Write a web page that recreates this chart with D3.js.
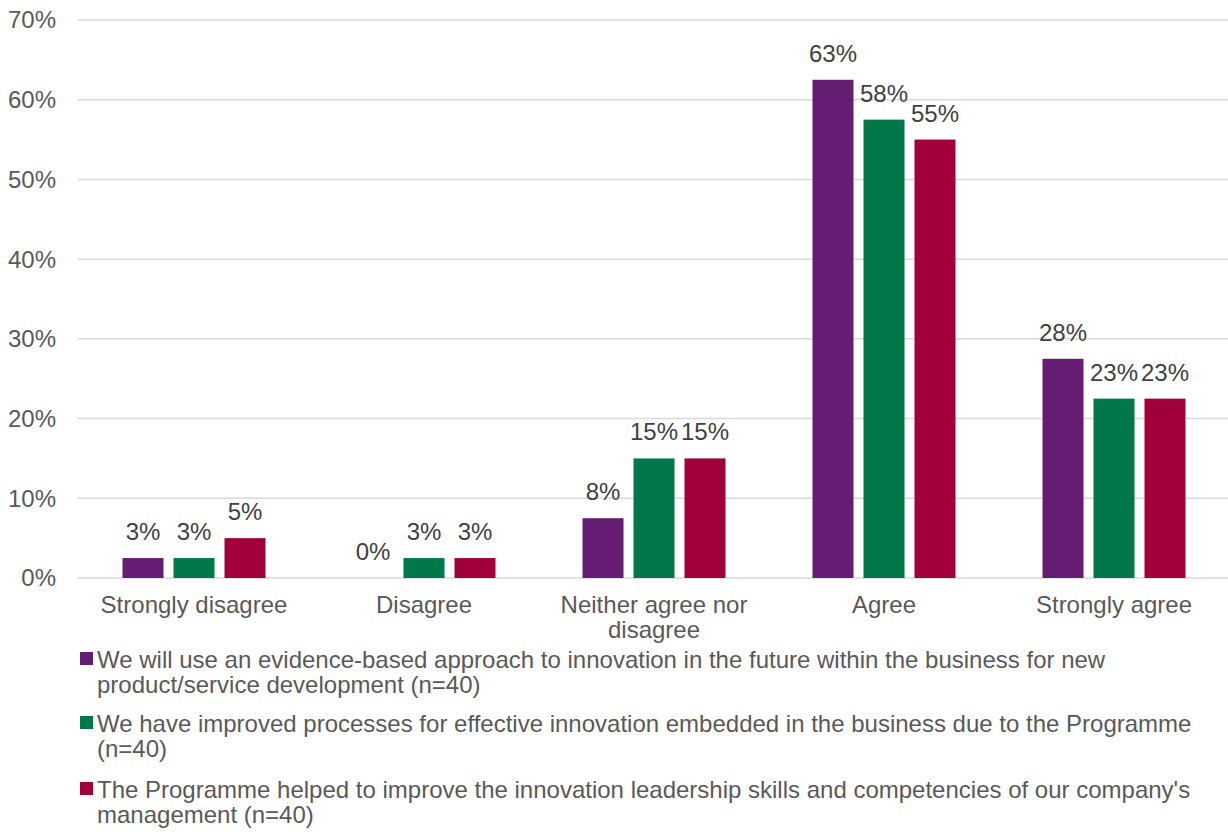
<!DOCTYPE html>
<html>
<head>
<meta charset="utf-8">
<script src="https://cdn.jsdelivr.net/npm/d3@7"></script>
<style>
  html, body { margin: 0; padding: 0; background: #fff; }
  svg { display: block; font-family: "Liberation Sans", Arial, sans-serif; }
</style>
</head>
<body>
<svg id="chart" width="1228" height="832"></svg>
<script>
// Survey response categories (x axis)
const categories = ["Strongly disagree", "Disagree", "Neither agree nor disagree", "Agree", "Strongly agree"];

// Statement labels shown in the legend
const seriesNames = [
  "We will use an evidence-based approach to innovation in the future within the business for new product/service development (n=40)",
  "We have improved processes for effective innovation embedded in the business due to the Programme (n=40)",
  "The Programme helped to improve the innovation leadership skills and competencies of our company's management (n=40)"
];

// Share of respondents (%) per category, one array per statement
const evidenceBased = [2.5, 0, 7.5, 62.5, 27.5];
const improvedProcesses = [2.5, 2.5, 15, 57.5, 22.5];
const leadershipSkills = [5, 2.5, 15, 55, 22.5];

// Y-axis ticks (%)
const yTicks = [0, 10, 20, 30, 40, 50, 60, 70];

const seriesValues = [evidenceBased, improvedProcesses, leadershipSkills];
const colors = ["#651c73", "#00784a", "#a1003a"];

const svg = d3.select("#chart");
const fontSize = 24;
const plot = { left: 78, right: 1228, top: 20, bottom: 578 };

const x = d3.scaleBand().domain(categories).range([plot.left + 1, plot.right + 1]);
const y = d3.scaleLinear().domain([0, 70]).range([plot.bottom, plot.top]);

const barW = 41, barStep = 51;
const inner = d3.scaleOrdinal().domain([0, 1, 2]).range([-barStep - barW / 2, -barW / 2, barStep - barW / 2]);

// Gridlines
svg.append("g")
  .selectAll("line")
  .data(yTicks)
  .join("line")
  .attr("x1", plot.left)
  .attr("x2", plot.right)
  .attr("y1", d => y(d))
  .attr("y2", d => y(d))
  .attr("stroke", "#d9d9d9")
  .attr("stroke-width", 1.5);

// Y tick labels
svg.append("g")
  .selectAll("text")
  .data(yTicks)
  .join("text")
  .attr("x", 56)
  .attr("y", d => y(d))
  .attr("dy", "0.35em")
  .attr("text-anchor", "end")
  .attr("font-size", fontSize)
  .attr("fill", "#595959")
  .text(d => d + "%");

// Bars and value labels
const flat = [];
seriesValues.forEach((vals, s) => vals.forEach((v, i) => flat.push({ s, cat: categories[i], v })));

svg.append("g")
  .selectAll("rect")
  .data(flat.filter(d => d.v > 0))
  .join("rect")
  .attr("x", d => x(d.cat) + x.bandwidth() / 2 + inner(d.s))
  .attr("y", d => y(d.v))
  .attr("width", barW)
  .attr("height", d => y(0) - y(d.v))
  .attr("fill", d => colors[d.s]);

svg.append("g")
  .selectAll("text")
  .data(flat)
  .join("text")
  .attr("x", d => x(d.cat) + x.bandwidth() / 2 + inner(d.s) + barW / 2)
  .attr("y", d => y(d.v) - 18)
  .attr("text-anchor", "middle")
  .attr("font-size", fontSize)
  .attr("fill", "#404040")
  .text(d => Math.round(d.v) + "%");

// Text wrapping helper based on measured widths
function wrapWords(text, maxWidth, size) {
  const probe = svg.append("text").attr("font-size", size).attr("visibility", "hidden");
  const words = text.split(" ");
  const lines = [];
  let line = "";
  words.forEach(w => {
    const trial = line ? line + " " + w : w;
    probe.text(trial);
    if (probe.node().getComputedTextLength() > maxWidth && line) {
      lines.push(line);
      line = w;
    } else {
      line = trial;
    }
  });
  if (line) lines.push(line);
  probe.remove();
  return lines;
}

// Category labels
const catG = svg.append("g");
categories.forEach(c => {
  const lines = wrapWords(c, 215, fontSize);
  const t = catG.append("text")
    .attr("text-anchor", "middle")
    .attr("font-size", fontSize)
    .attr("fill", "#595959");
  lines.forEach((ln, k) => {
    t.append("tspan")
      .attr("x", x(c) + x.bandwidth() / 2)
      .attr("y", 613 + k * 25)
      .text(ln);
  });
});

// Legend
const legendG = svg.append("g");
const legendStarts = [668, 732, 798];
seriesNames.forEach((name, s) => {
  const base = legendStarts[s];
  legendG.append("rect")
    .attr("x", 80)
    .attr("y", base - 16)
    .attr("width", 13)
    .attr("height", 13)
    .attr("fill", colors[s]);
  const lines = wrapWords(name, 1120, fontSize);
  const t = legendG.append("text")
    .attr("font-size", fontSize)
    .attr("fill", "#595959");
  lines.forEach((ln, k) => {
    t.append("tspan")
      .attr("x", 97)
      .attr("y", base + k * 24.5)
      .text(ln);
  });
});
</script>
</body>
</html>
